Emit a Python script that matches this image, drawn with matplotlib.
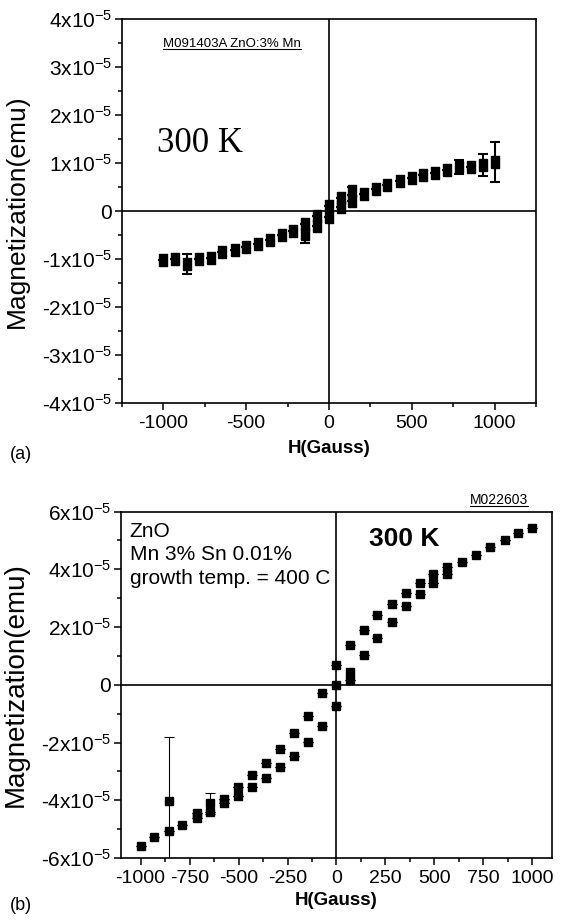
import numpy as np
import matplotlib
matplotlib.use("Agg")
import matplotlib.pyplot as plt
from matplotlib.ticker import MultipleLocator, FuncFormatter
from matplotlib.lines import Line2D

plt.rcParams['font.family'] = ['Liberation Sans', 'DejaVu Sans']
plt.rcParams['mathtext.fontset'] = 'custom'
plt.rcParams['mathtext.rm'] = 'Liberation Sans'
plt.rcParams['mathtext.it'] = 'Liberation Sans:italic'
plt.rcParams['mathtext.bf'] = 'Liberation Sans:bold'
plt.rcParams['mathtext.default'] = 'regular'
plt.rcParams['axes.unicode_minus'] = False

# --- panel (a) data : H (Gauss), M (units of 1e-5 emu), error bars ---
a_h = [-1000, -930, -860, -785, -715, -645, -570, -500, -430, -355, -285, -215, -145, -75,
       0, 70, 142, 213, 283, 353, 427, 500, 570, 640, 710, 785, 855, 928, 1000]
a_m = [-1.03, -1.00, -1.10, -1.00, -0.97, -0.85, -0.82, -0.74, -0.69, -0.60, -0.51, -0.42, -0.28, -0.10,
       0.10, 0.28, 0.42, 0.35, 0.45, 0.54, 0.63, 0.68, 0.74, 0.79, 0.85, 0.92, 0.92, 0.96, 1.02]
a_err = [0, 0, 0.21, 0, 0, 0, 0, 0, 0, 0, 0, 0, 0, 0,
         0, 0, 0.08, 0, 0, 0, 0, 0, 0, 0, 0, 0.15, 0, 0.23, 0.41]
a2_h = [-145, -75, 0, 70, 142]
a2_m = [-0.47, -0.31, -0.12, 0.08, 0.21]
a2_err = [0.2, 0, 0, 0, 0]

# --- panel (b) data ---
b_up_h = [1000, 929, 859, 784, 711, 640, 566, 495, 427, 354, 283, 209, 141, 70, 0,
          -75, -146, -217, -287, -359, -430, -501, -573, -644, -714, -786, -857, -930, -1000]
b_up_m = [5.44, 5.24, 5.01, 4.78, 4.49, 4.26, 4.08, 3.82, 3.51, 3.18, 2.81, 2.41, 1.91, 1.36, 0.70,
          -0.29, -1.07, -1.68, -2.22, -2.72, -3.13, -3.55, -3.95, -4.10, -4.45, -4.85, -5.08, -5.28, -5.58]
b_up_err = [0] * 23 + [0.36] + [0] * 5
b_lo_h = [-857, -714, -644, -573, -501, -430, -359, -287, -217, -146, -75, 0,
          70, 141, 209, 283, 354, 427, 495, 566]
b_lo_m = [-4.02, -4.62, -4.39, -4.11, -3.84, -3.55, -3.23, -2.86, -2.45, -1.97, -1.44, -0.75,
          0.18, 1.04, 1.62, 2.17, 2.72, 3.16, 3.53, 3.85]
b_lo_err = [2.2] + [0] * 19
b_ex_h = [0, 70]
b_ex_m = [0.0, 0.44]

SCALE = 1e-5


def fmt_y(v, pos):
    n = int(round(v / SCALE))
    if n == 0:
        return "0"
    return f"{n}x10$^{{-5}}$"


def style_axes(ax):
    for s in ax.spines.values():
        s.set_linewidth(1.2)
    ax.tick_params(which='both', direction='out', top=False, right=False, width=1.1)
    ax.tick_params(which='major', length=5)
    ax.tick_params(which='minor', length=3)
    ax.tick_params(axis='y', pad=2, labelsize=15)
    ax.tick_params(axis='x', labelsize=14)
    ax.axhline(0, color='k', lw=1.2, zorder=1)
    ax.axvline(0, color='k', lw=1.2, zorder=1)
    ax.yaxis.set_major_formatter(FuncFormatter(fmt_y))


def underline(fig, txt, lw=0.8):
    fig.canvas.draw()
    bb = txt.get_window_extent()
    inv = fig.transFigure.inverted()
    (x0, y0), (x1, _) = inv.transform([(bb.x0, bb.y0 + 1), (bb.x1, bb.y0 + 1)])
    fig.add_artist(Line2D([x0, x1], [y0, y0], transform=fig.transFigure, color='k', lw=lw))


fig = plt.figure(figsize=(5.64, 9.21), dpi=100)
rect = [(-0.8, -1), (0.8, -1), (0.8, 1), (-0.8, 1), (-0.8, -1)]

# ---------------- panel (a) ----------------
ax1 = fig.add_axes([0.2163, 0.5624, 0.7340, 0.4170])
style_axes(ax1)
ax1.errorbar(a_h, np.array(a_m) * SCALE, yerr=np.array(a_err) * SCALE, fmt='none',
             ecolor='k', elinewidth=1.5, capsize=3.5, capthick=1.5, zorder=2)
ax1.errorbar(a2_h, np.array(a2_m) * SCALE, yerr=np.array(a2_err) * SCALE, fmt='none',
             ecolor='k', elinewidth=1.5, capsize=3.5, capthick=1.5, zorder=2)
ax1.plot(a_h, np.array(a_m) * SCALE, ls='none', marker=rect, ms=8, color='k', zorder=3)
ax1.plot(a2_h, np.array(a2_m) * SCALE, ls='none', marker=rect, ms=8, color='k', zorder=3)
ax1.set_xlim(-1250, 1250)
ax1.set_ylim(-4e-5, 4e-5)
ax1.xaxis.set_major_locator(MultipleLocator(500))
ax1.xaxis.set_minor_locator(MultipleLocator(250))
ax1.yaxis.set_major_locator(MultipleLocator(1e-5))
ax1.yaxis.set_minor_locator(MultipleLocator(0.5e-5))
ax1.set_xlabel("H(Gauss)", fontsize=13.5, fontweight='bold', labelpad=6)
ax1.set_ylabel("Magnetization(emu)", fontsize=19)
ax1.yaxis.set_label_coords(-0.225, 0.5)
t1 = ax1.text(0.265, 0.935, "M091403A ZnO:3% Mn", transform=ax1.transAxes,
              ha='center', va='center', fontsize=9.5)
ax1.text(0.085, 0.675, "300 K", transform=ax1.transAxes, ha='left', va='center',
         fontsize=25, family='Liberation Serif')
fig.text(0.018, 0.506, "(a)", fontsize=13, ha='left', va='center')

# ---------------- panel (b) ----------------
ax2 = fig.add_axes([0.2145, 0.0684, 0.7642, 0.3762])
style_axes(ax2)
ax2.errorbar(b_up_h, np.array(b_up_m) * SCALE, yerr=np.array(b_up_err) * SCALE, fmt='none',
             ecolor='k', elinewidth=0.8, capsize=3.5, capthick=0.8, zorder=2)
ax2.errorbar(b_lo_h, np.array(b_lo_m) * SCALE, yerr=np.array(b_lo_err) * SCALE, fmt='none',
             ecolor='k', elinewidth=0.8, capsize=3.5, capthick=0.8, zorder=2)
for hh, mm in [(b_up_h, b_up_m), (b_lo_h, b_lo_m), (b_ex_h, b_ex_m)]:
    ax2.plot(hh, np.array(mm) * SCALE, ls='none', marker='s', ms=5.5, color='k', zorder=3)
ax2.set_xlim(-1100, 1100)
ax2.set_ylim(-6e-5, 6e-5)
ax2.xaxis.set_major_locator(MultipleLocator(250))
ax2.xaxis.set_minor_locator(MultipleLocator(125))
ax2.yaxis.set_major_locator(MultipleLocator(2e-5))
ax2.yaxis.set_minor_locator(MultipleLocator(1e-5))
ax2.set_xlabel("H(Gauss)", fontsize=13.5, fontweight='bold', labelpad=4)
ax2.set_ylabel("Magnetization(emu)", fontsize=20)
ax2.yaxis.set_label_coords(-0.213, 0.5)
ax2.text(0.02, 0.97, "ZnO\nMn 3% Sn 0.01%\ngrowth temp. = 400 C", transform=ax2.transAxes,
         ha='left', va='top', fontsize=15, linespacing=1.3)
ax2.text(0.575, 0.92, "300 K", transform=ax2.transAxes, ha='left', va='center',
         fontsize=19, fontweight='bold')
t2 = fig.text(0.885, 0.457, "M022603", fontsize=10, ha='center', va='center')
fig.text(0.018, 0.017, "(b)", fontsize=13, ha='left', va='center')

underline(fig, t1)
underline(fig, t2)

fig.savefig("out.png", dpi=100)
